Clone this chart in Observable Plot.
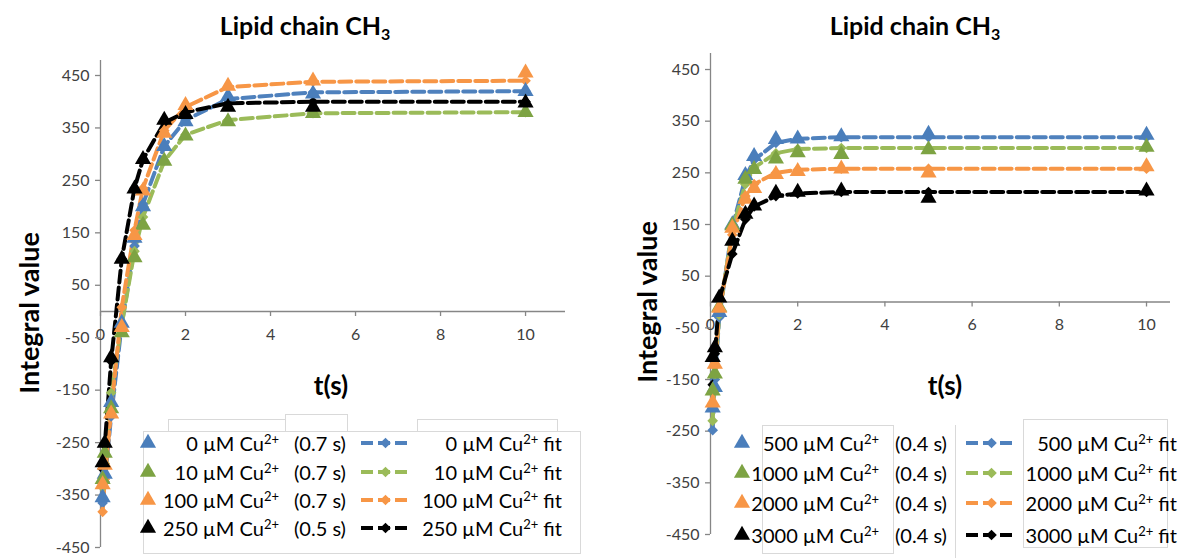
<!DOCTYPE html>
<html><head><meta charset="utf-8">
<script src="https://cdn.jsdelivr.net/npm/d3@7"></script>
<script src="https://cdn.jsdelivr.net/npm/@observablehq/plot@0.6"></script>
<style>
body{margin:0;background:#fff;}
#wrap{position:relative;width:1184px;height:558px;overflow:hidden;font-family:Lato,"Open Sans",sans-serif;background:#fff;}
.abs{position:absolute;white-space:nowrap;}
.title{font-weight:bold;font-size:25px;color:#000;transform:translateX(-50%);line-height:1;}
.title sub{font-size:16px;vertical-align:-5px;line-height:0;}
.ylab{font-weight:bold;font-size:27px;color:#000;transform:translate(-50%,-50%) rotate(-90deg);line-height:1;}
.xlab{font-weight:bold;font-size:26px;color:#000;transform:translate(-50%,-50%);line-height:1;}
.leg{font-size:20px;color:#000;line-height:1;transform:translateY(-50%);}
.leg sup{font-size:13px;vertical-align:7px;line-height:0;}
.panel{position:absolute;top:0;}
</style></head>
<body><div id="wrap"></div>
<script>
// ---------- data ----------
const tLeft = [0.05, 0.1, 0.25, 0.5, 0.8, 1, 1.5, 2, 3, 5, 10];
const left0      = [-355, -310, -173, -22, 140, 200, 315, 362, 410, 415, 420];
const left0Fit   = [-365, -325, -200, -25, 125, 205, 315, 365, 405, 418, 420];
const left10     = [-320, -270, -185, -40, 103, 165, 287, 335, 362, 378, 380];
const left10Fit  = [-335, -290, -155, -25, 115, 180, 287, 337, 365, 378, 380];
const left100    = [-330, -293, -195, -30, 145, 230, 340, 393, 430, 440, 455];
const left100Fit = [-382, -320, -190, 8, 155, 235, 345, 390, 428, 438, 440];
const left250    = [-288, -251, -88, 100, 234, 290, 365, 376, 390, 390, 398];
const left250Fit = [-300, -255, -95, 100, 235, 290, 360, 380, 397, 400, 400];

const tRight = [0.05, 0.1, 0.2, 0.5, 0.8, 1, 1.5, 2, 3, 5, 10];
const right500     = [-205, -165, -20, 150, 245, 282, 315, 316, 320, 325, 323];
const right500Fit  = [-248, -150, -30, 145, 240, 275, 308, 316, 319, 319, 319];
const right1000    = [-172, -139, -10, 148, 238, 257, 277, 289, 286, 295, 300];
const right1000Fit = [-230, -140, -25, 140, 228, 260, 288, 296, 298, 298, 298];
const right2000    = [-195, -120, -12, 143, 199, 220, 247, 253, 258, 250, 262];
const right2000Fit = [-200, -125, -20, 130, 205, 228, 250, 256, 258, 258, 258];
const right3000    = [-107, -88, 8, 118, 170, 186, 211, 213, 215, 201, 215];
const right3000Fit = [-160, -100, 5, 93, 160, 185, 205, 210, 213, 213, 213];

const leftLabels  = ["0", "10", "100", "250"];
const leftTau     = ["0.7", "0.7", "0.7", "0.5"];
const rightLabels = ["500", "1000", "2000", "3000"];
const rightTau    = ["0.4", "0.4", "0.4", "0.4"];

const xTicks = [0, 2, 4, 6, 8, 10];
const yTicks = [-450, -350, -250, -150, -50, 50, 150, 250, 350, 450];

const triColors  = ["#4A7EBB", "#7DA343", "#F79646", "#000000"];
const lineColors = ["#4F81BD", "#9BBB59", "#F79646", "#000000"];
const TRI_R = 6, DIA_R = 4.8, LW = 4, DASH = "12,5";

// ---------- helpers ----------
function rows(ts, vals) { return ts.map((t, i) => ({t, v: vals[i]})); }

function panel(cfg) {
  const k = (cfg.height - cfg.mt - cfg.mb) / (cfg.yMax + 450);
  const marks = [
    Plot.ruleY([0], {x1: 0, x2: cfg.xMax, stroke: "#868686", strokeWidth: 1.3}),
    Plot.ruleX([0], {y1: -450, y2: cfg.yMax, stroke: "#868686", strokeWidth: 1.3}),
    Plot.ruleX(xTicks, {x: d => d, y1: 0, y2: -5 / k, stroke: "#868686", strokeWidth: 1.3}),
    Plot.text(xTicks, {x: d => d, y: 0, dy: 23, text: d => String(d), fontSize: 16, fill: "#404040"}),
    Plot.axisY({ticks: yTicks, tickFormat: d => String(d), tickSize: 5, tickPadding: 6, fontSize: 16, stroke: "#868686", strokeWidth: 1.3, color: "#404040", label: null})
  ];
  cfg.fits.forEach((f, i) => {
    marks.push(Plot.line(rows(cfg.t, f), {x: "t", y: "v", stroke: lineColors[i], strokeWidth: LW, strokeDasharray: DASH}));
  });
  cfg.fits.forEach((f, i) => {
    marks.push(Plot.dot(rows(cfg.t, f), {x: "t", y: "v", symbol: "diamond2", r: DIA_R, fill: lineColors[i]}));
  });
  cfg.obs.forEach((o, i) => {
    marks.push(Plot.dot(rows(cfg.t, o), {x: "t", y: "v", symbol: "triangle", r: TRI_R, fill: triColors[i]}));
  });
  return Plot.plot({
    width: cfg.width, height: cfg.height,
    marginLeft: cfg.ml, marginRight: cfg.mr, marginTop: cfg.mt, marginBottom: cfg.mb,
    x: {domain: [0, cfg.xMax], axis: null},
    y: {domain: [-450, cfg.yMax], axis: null},
    style: {fontFamily: "Lato, 'Open Sans', sans-serif", background: "transparent", overflow: "visible"},
    marks
  });
}

const wrap = document.getElementById("wrap");
function add(el, left) { el.classList.add("panel"); el.style.left = left + "px"; wrap.appendChild(el); }

add(panel({width: 592, height: 558, ml: 100, mr: 27, mt: 60, mb: 11, xMax: 10.94, yMax: 478.6,
  t: tLeft, obs: [left0, left10, left100, left250], fits: [left0Fit, left10Fit, left100Fit, left250Fit]}), 0);
add(panel({width: 592, height: 558, ml: 118, mr: 14, mt: 53, mb: 24, xMax: 10.55, yMax: 481,
  t: tRight, obs: [right500, right1000, right2000, right3000], fits: [right500Fit, right1000Fit, right2000Fit, right3000Fit]}), 592);

function html(cls, left, top, inner, extra) {
  const d = document.createElement("div");
  d.className = "abs " + cls;
  d.style.left = left + "px"; d.style.top = top + "px";
  d.innerHTML = inner;
  if (extra) Object.assign(d.style, extra);
  wrap.appendChild(d);
  return d;
}

// titles & axis labels
html("title", 305, 13, "Lipid chain CH<sub>3</sub>");
html("title", 915, 13, "Lipid chain CH<sub>3</sub>");
html("ylab", 28, 313, "Integral value");
html("ylab", 646, 302, "Integral value");
html("xlab", 331, 385, "t(s)");
html("xlab", 945, 385, "t(s)");

// legend frames
const ns = "http://www.w3.org/2000/svg";
const over = document.createElementNS(ns, "svg");
over.setAttribute("width", 1184); over.setAttribute("height", 558);
over.style.position = "absolute"; over.style.left = "0"; over.style.top = "0";
over.innerHTML = `
 <rect x="168.5" y="419.5" width="117" height="20" fill="#fff" stroke="#d9d9d9"/>
 <rect x="285.5" y="414.5" width="62" height="25" fill="#fff" stroke="#d9d9d9"/>
 <rect x="417.5" y="419.5" width="140" height="20" fill="#fff" stroke="#d9d9d9"/>
 <rect x="143.5" y="431.5" width="437" height="122" fill="#fff" stroke="#d9d9d9"/>
 <rect x="762.5" y="425.5" width="131" height="128" fill="#fff" stroke="#d9d9d9"/>
 <line x1="955.5" y1="425" x2="955.5" y2="558" stroke="#d9d9d9"/>
 <rect x="1023.5" y="419.5" width="144" height="128" fill="#fff" stroke="#d9d9d9"/>`;
wrap.appendChild(over);

function legend(cfg) {
  cfg.rows.forEach((yc, i) => {
    const tri = d3.symbol(d3.symbolTriangle, Math.PI * TRI_R * TRI_R)();
    const dia = d3.symbol(d3.symbolDiamond2, Math.PI * DIA_R * DIA_R)();
    const g = document.createElementNS(ns, "g");
    g.innerHTML = `<path transform="translate(${cfg.triX},${yc})" d="${tri}" fill="${triColors[i]}"/>
      <line x1="${cfg.lineX1}" x2="${cfg.lineX2}" y1="${yc}" y2="${yc}" stroke="${lineColors[i]}" stroke-width="${LW}" stroke-dasharray="${DASH}"/>
      <path transform="translate(${(cfg.lineX1 + cfg.lineX2) / 2},${yc})" d="${dia}" fill="${lineColors[i]}"/>`;
    over.appendChild(g);
    html("leg", 0, yc, `${cfg.labels[i]} µM Cu<sup>2+</sup>`, {left: "auto", right: (1184 - cfg.lab1R) + "px"});
    html("leg", cfg.tauX, yc, `(${cfg.taus[i]} s)`);
    html("leg", 0, yc, `${cfg.labels[i]} µM Cu<sup>2+</sup> fit`, {left: "auto", right: (1184 - cfg.lab2R) + "px"});
  });
}
legend({rows: [443, 472, 500, 528], triX: 148, lab1R: 279, tauX: 294, lineX1: 361, lineX2: 410, lab2R: 562, labels: leftLabels, taus: leftTau});
legend({rows: [443, 473, 503, 535], triX: 742, lab1R: 879, tauX: 895, lineX1: 966, lineX2: 1017, lab2R: 1177, labels: rightLabels, taus: rightTau});
</script>
</body></html>
